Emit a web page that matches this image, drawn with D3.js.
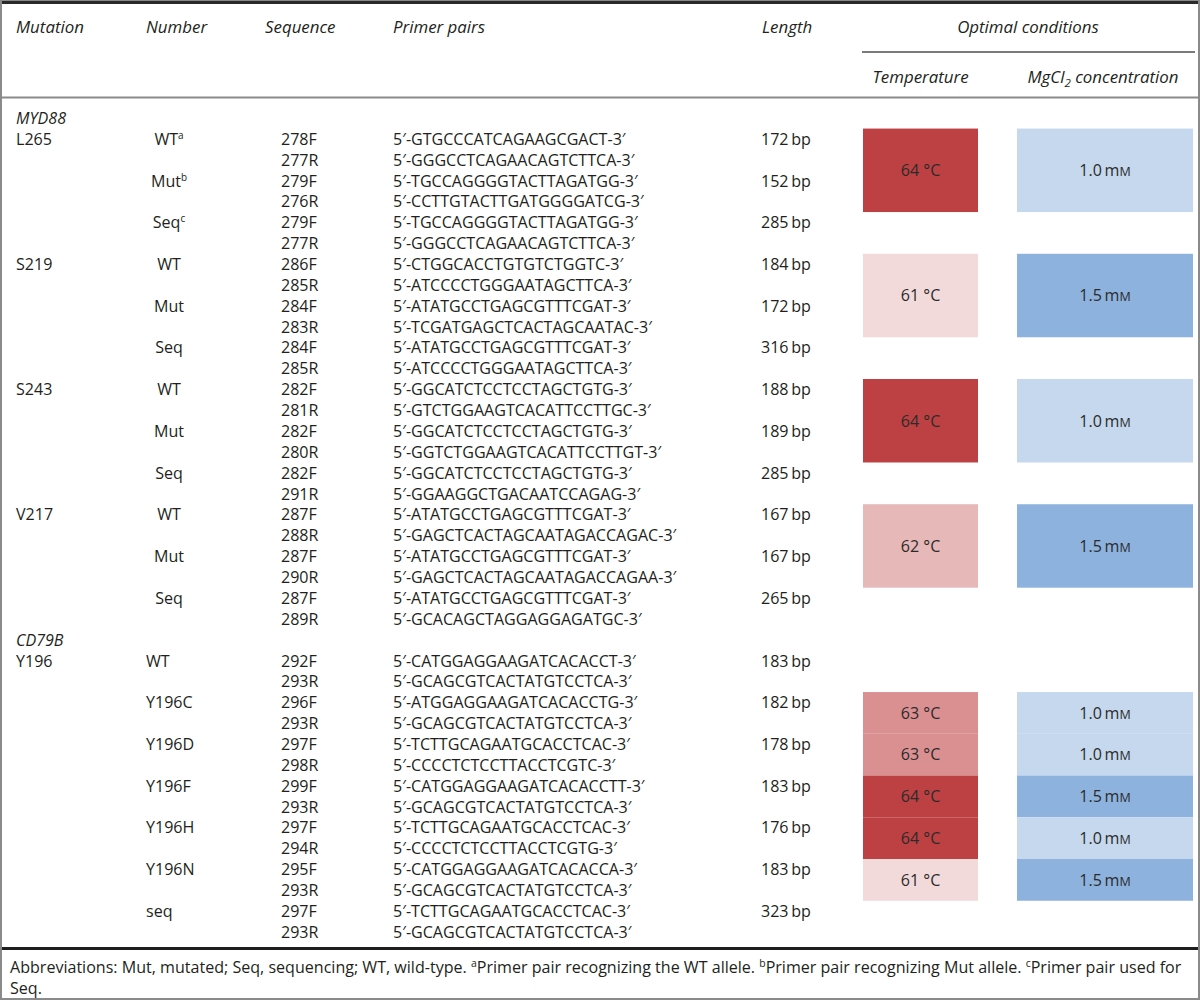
<!DOCTYPE html>
<html><head><meta charset="utf-8">
<script src="https://cdn.jsdelivr.net/npm/d3@7"></script>
<style>body{margin:0;background:#fff} svg{display:block}</style>
</head><body>
<script>
// ---------- data ----------
const genes = ["MYD88", "CD79B"];
const mutations = ["L265", "S219", "S243", "V217", "Y196"];
const mutationGene = ["MYD88", "MYD88", "MYD88", "MYD88", "CD79B"];
const pairMutation = [0,0,0, 1,1,1, 2,2,2, 3,3,3, 4,4,4,4,4,4,4];
const pairNumber = ["WT","Mut","Seq","WT","Mut","Seq","WT","Mut","Seq","WT","Mut","Seq",
  "WT","Y196C","Y196D","Y196F","Y196H","Y196N","seq"];
const pairNote = ["a","b","c","","","","","","","","","","","","","","","",""];
const fwdIds = ["278F","279F","279F","286F","284F","284F","282F","282F","282F","287F","287F","287F",
  "292F","296F","297F","299F","297F","295F","297F"];
const revIds = ["277R","276R","277R","285R","283R","285R","281R","280R","291R","288R","290R","289R",
  "293R","293R","298R","293R","294R","293R","293R"];
const fwdSeqs = ["GTGCCCATCAGAAGCGACT","TGCCAGGGGTACTTAGATGG","TGCCAGGGGTACTTAGATGG",
  "CTGGCACCTGTGTCTGGTC","ATATGCCTGAGCGTTTCGAT","ATATGCCTGAGCGTTTCGAT",
  "GGCATCTCCTCCTAGCTGTG","GGCATCTCCTCCTAGCTGTG","GGCATCTCCTCCTAGCTGTG",
  "ATATGCCTGAGCGTTTCGAT","ATATGCCTGAGCGTTTCGAT","ATATGCCTGAGCGTTTCGAT",
  "CATGGAGGAAGATCACACCT","ATGGAGGAAGATCACACCTG","TCTTGCAGAATGCACCTCAC",
  "CATGGAGGAAGATCACACCTT","TCTTGCAGAATGCACCTCAC","CATGGAGGAAGATCACACCA","TCTTGCAGAATGCACCTCAC"];
const revSeqs = ["GGGCCTCAGAACAGTCTTCA","CCTTGTACTTGATGGGGATCG","GGGCCTCAGAACAGTCTTCA",
  "ATCCCCTGGGAATAGCTTCA","TCGATGAGCTCACTAGCAATAC","ATCCCCTGGGAATAGCTTCA",
  "GTCTGGAAGTCACATTCCTTGC","GGTCTGGAAGTCACATTCCTTGT","GGAAGGCTGACAATCCAGAG",
  "GAGCTCACTAGCAATAGACCAGAC","GAGCTCACTAGCAATAGACCAGAA","GCACAGCTAGGAGGAGATGC",
  "GCAGCGTCACTATGTCCTCA","GCAGCGTCACTATGTCCTCA","CCCCTCTCCTTACCTCGTC",
  "GCAGCGTCACTATGTCCTCA","CCCCTCTCCTTACCTCGTG","GCAGCGTCACTATGTCCTCA","GCAGCGTCACTATGTCCTCA"];
const lengths = [172,152,285,184,172,316,188,189,285,167,167,265,183,182,178,183,176,183,323];
// optimal conditions: block starts at pair index, spans n pairs
const condStart = [0, 3, 6, 9, 13, 14, 15, 16, 17];
const condSpan  = [2, 2, 2, 2, 1, 1, 1, 1, 1];
const condTemp  = [64, 61, 64, 62, 63, 63, 64, 64, 61];
const condMg    = ["1.0","1.5","1.0","1.5","1.0","1.0","1.5","1.0","1.5"];
const tempLevels = [61, 62, 63, 64];
const mgLevels = ["1.0", "1.5"];
const headers = ["Mutation","Number","Sequence","Primer pairs","Length"];
const footParts = [["Abbreviations: Mut, mutated; Seq, sequencing; WT, wild-type. ",false],["a",true],
  ["Primer pair recognizing the WT allele. ",false],["b",true],["Primer pair recognizing Mut allele. ",false],
  ["c",true],["Primer pair used for",false]];
const footLine2 = "Seq.";

// ---------- layout ----------
const W = 1200, H = 1000;
const FONT = "'Open Sans', Lato, sans-serif";
const svg = d3.select("body").append("svg").attr("width", W).attr("height", H)
  .style("font-family", FONT);
const txt = "#231f20";

// footnote (fitted to the reference's line width ~1172px); body text uses the same size
function drawFoot(size) {
  const fn = svg.append("text").attr("class","foot").attr("x",10).attr("y",967+size*0.36)
    .attr("font-size",size).attr("fill",txt);
  let first = true;
  footParts.forEach(([t,sup])=>{
    if (sup) fn.append("tspan").attr("font-size",size*0.65).attr("dy",-size*0.35).text(t);
    else { fn.append("tspan").attr("dy", first ? 0 : size*0.35).text(t); }
    first = false;
  });
  return fn;
}
let fnode = drawFoot(14);
const fw = fnode.node().getComputedTextLength();
fnode.remove();
const FFS = 14 * 1172 / fw;
drawFoot(FFS);
svg.append("text").attr("x",10).attr("y",988+FFS*0.36).attr("font-size",FFS).attr("fill",txt).text(footLine2);

const FS = FFS;
const HFS = FFS * 1.05;

const y = d3.scaleLinear().domain([0, 38]).range([139, 139 + 38 * 20.87]);
const rowH = y(1) - y(0);
const BO = FS * 0.36; // baseline offset from row centre
const tempColor = d3.scaleOrdinal().domain(tempLevels).range(["#f2dadb","#e6b8b8","#da9091","#bd4143"]);
const mgColor = d3.scaleOrdinal().domain(mgLevels).range(["#c6d8ed","#8eb2de"]);
const col = {mut:16, numC:169, numL:146, seq:281, primer:393, len:761, tempL:863, tempR:978, mgL:1017, mgR:1193};
const layoutRow = p => p < 12 ? 2 * p : 2 * p + 1;

// frame and rules
svg.append("rect").attr("x",1).attr("y",1).attr("width",W-2).attr("height",H-2)
  .attr("fill","none").attr("stroke","#8a8a8a").attr("stroke-width",2);
svg.append("rect").attr("x",2).attr("y",1).attr("width",W-4).attr("height",3).attr("fill","#2a2a2a");
svg.append("line").attr("x1",862).attr("x2",1195).attr("y1",52).attr("y2",52)
  .attr("stroke","#7a7a7a").attr("stroke-width",2);
svg.append("line").attr("x1",2).attr("x2",W-2).attr("y1",97.5).attr("y2",97.5)
  .attr("stroke","#8a8a8a").attr("stroke-width",2);
svg.append("rect").attr("x",2).attr("y",947).attr("width",W-4).attr("height",3).attr("fill","#1e1e1e");

// headers
const hx = [col.mut, col.numL, 265, col.primer, 762];
svg.selectAll("text.hdr").data(headers).join("text").attr("class","hdr")
  .attr("x",(d,i)=>hx[i]).attr("y",27+BO).attr("font-size",HFS).attr("font-style","italic")
  .attr("fill",txt).text(d=>d);
svg.append("text").attr("x",1028).attr("y",27+BO).attr("text-anchor","middle")
  .attr("font-size",HFS).attr("font-style","italic").attr("fill",txt).text("Optimal conditions");
svg.append("text").attr("x",(col.tempL+col.tempR)/2).attr("y",77+BO).attr("text-anchor","middle")
  .attr("font-size",HFS).attr("font-style","italic").attr("fill",txt).text("Temperature");
const mgh = svg.append("text").attr("x",(col.mgL+col.mgR)/2 - 2).attr("y",77+BO).attr("text-anchor","middle")
  .attr("font-size",HFS).attr("font-style","italic").attr("fill",txt);
mgh.append("tspan").text("MgCl");
mgh.append("tspan").attr("font-size",HFS*0.68).attr("dy",4).text("2");
mgh.append("tspan").attr("dy",-4).text(" concentration");

// condition cells
const cond = condStart.map((s,i)=>({
  top: y(layoutRow(s)) - rowH/2,
  bottom: y(layoutRow(s) + 2*condSpan[i] - 1) + rowH/2,
  temp: condTemp[i], mg: condMg[i]}));
svg.selectAll("rect.temp").data(cond).join("rect").attr("class","temp")
  .attr("x",col.tempL).attr("width",col.tempR-col.tempL)
  .attr("y",d=>d.top).attr("height",d=>d.bottom-d.top).attr("fill",d=>tempColor(d.temp));
svg.selectAll("rect.mg").data(cond).join("rect").attr("class","mg")
  .attr("x",col.mgL).attr("width",col.mgR-col.mgL)
  .attr("y",d=>d.top).attr("height",d=>d.bottom-d.top).attr("fill",d=>mgColor(d.mg));
svg.selectAll("text.tempt").data(cond).join("text").attr("class","tempt")
  .attr("x",(col.tempL+col.tempR)/2).attr("y",d=>(d.top+d.bottom)/2+BO).attr("text-anchor","middle")
  .attr("font-size",FS).attr("fill","#2b2b2b").text(d=>d.temp+" \u00B0C");
const mgt = svg.selectAll("text.mgt").data(cond).join("text").attr("class","mgt")
  .attr("x",(col.mgL+col.mgR)/2).attr("y",d=>(d.top+d.bottom)/2+BO).attr("text-anchor","middle")
  .attr("font-size",FS).attr("fill","#2b2b2b");
mgt.append("tspan").text(d=>d.mg+"\u2009m");
mgt.append("tspan").attr("font-size",FS*0.78).text("M");

// gene headers
const geneRows = [-1, 24];
svg.selectAll("text.gene").data(genes).join("text").attr("class","gene")
  .attr("x",col.mut).attr("y",(d,i)=>y(geneRows[i])+BO).attr("font-size",FS).attr("font-style","italic")
  .attr("fill",txt).text(d=>d);

// mutation labels
const firstPair = mutations.map((m,i)=>pairMutation.indexOf(i));
svg.selectAll("text.mut").data(mutations).join("text").attr("class","mut")
  .attr("x",col.mut).attr("y",(d,i)=>y(layoutRow(firstPair[i]))+BO).attr("font-size",FS)
  .attr("fill",txt).text(d=>d);

// pairs
const pairs = pairNumber.map((n,i)=>({n, note:pairNote[i], gene: mutationGene[pairMutation[i]],
  r: layoutRow(i), f: fwdIds[i], rv: revIds[i], fs: fwdSeqs[i], rs: revSeqs[i], len: lengths[i]}));
const num = svg.selectAll("text.num").data(pairs).join("text").attr("class","num")
  .attr("x",d=>d.gene==="MYD88"?col.numC:col.numL)
  .attr("text-anchor",d=>d.gene==="MYD88"?"middle":"start")
  .attr("y",d=>y(d.r)+BO).attr("font-size",FS).attr("fill",txt);
num.append("tspan").text(d=>d.n);
num.filter(d=>d.note).append("tspan").attr("font-size",FS*0.62).attr("dy",-6).text(d=>d.note);

const lines = [];
pairs.forEach(d=>{
  lines.push({r:d.r, id:d.f, s:d.fs, len:d.len});
  lines.push({r:d.r+1, id:d.rv, s:d.rs, len:null});
});
svg.selectAll("text.sid").data(lines).join("text").attr("class","sid")
  .attr("x",col.seq).attr("y",d=>y(d.r)+BO).attr("font-size",FS).attr("fill",txt).text(d=>d.id);
svg.selectAll("text.prim").data(lines).join("text").attr("class","prim")
  .attr("x",col.primer).attr("y",d=>y(d.r)+BO).attr("font-size",FS).attr("fill",txt)
  .text(d=>"5\u2032-"+d.s+"-3\u2032");
svg.selectAll("text.len").data(lines.filter(d=>d.len)).join("text").attr("class","len")
  .attr("x",col.len).attr("y",d=>y(d.r)+BO).attr("font-size",FS).attr("fill",txt)
  .text(d=>d.len+"\u2009bp");
</script>
</body></html>
